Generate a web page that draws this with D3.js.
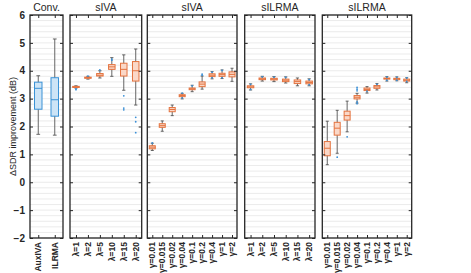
<!DOCTYPE html>
<html>
  <head>
    <meta charset="utf-8">
    <title>SDR boxplots</title>
    <script type="text/javascript" src="https://cdn.jsdelivr.net/npm/d3@7"></script>
    <style>
      body { margin: 0; background: #fff; }
      text { font-family: "Liberation Sans", Arial, sans-serif; fill: #262626; }
    </style>
  </head>
  <body>
<script type="text/javascript">
// box stats: [lower whisker, q1, median, q3, upper whisker]
var convCats = ["AuxIVA", "ILRMA"];
var convStats = [[1.72, 2.62, 3.37, 3.59, 3.82], [1.69, 2.37, 2.96, 3.75, 5.14]];
var convOutliers = [[], []];

var lamCats = ["λ=1", "λ=2", "λ=5", "λ=10", "λ=15", "λ=20"];
var gamCats = ["γ=0.01", "γ=0.015", "γ=0.02", "γ=0.04", "γ=0.1", "γ=0.2", "γ=0.4", "γ=1", "γ=2"];

var sivaLamStats = [[3.38, 3.40, 3.42, 3.44, 3.46], [3.70, 3.73, 3.75, 3.77, 3.80], [3.74, 3.81, 3.84, 3.90, 4.00],
                    [3.80, 4.05, 4.14, 4.22, 4.47], [3.30, 3.81, 4.05, 4.27, 4.57], [2.77, 3.63, 4.00, 4.33, 4.78]];
var sivaLamOutliers = [[3.35, 3.32], [3.81], [4.03], [4.42, 4.38], [3.10, 2.66, 2.60], [2.33, 2.17, 1.78]];

var sivaGamStats = [[1.14, 1.20, 1.26, 1.31, 1.40], [1.83, 1.97, 2.03, 2.10, 2.20], [2.39, 2.53, 2.61, 2.68, 2.77],
                    [2.99, 3.07, 3.11, 3.14, 3.19], [3.25, 3.32, 3.35, 3.38, 3.48], [3.34, 3.43, 3.52, 3.60, 3.81],
                    [3.71, 3.79, 3.84, 3.89, 3.97], [3.72, 3.80, 3.86, 3.91, 4.03], [3.62, 3.78, 3.87, 3.96, 4.09]];
var sivaGamOutliers = [[1.41], [], [], [3.20, 3.03], [3.46], [3.88, 3.84], [3.95, 3.75], [4.01, 3.75], []];

var silrmaLamStats = [[3.31, 3.39, 3.42, 3.46, 3.53], [3.63, 3.68, 3.71, 3.74, 3.80], [3.61, 3.67, 3.70, 3.73, 3.79],
                      [3.56, 3.61, 3.66, 3.70, 3.78], [3.46, 3.54, 3.61, 3.67, 3.74], [3.46, 3.53, 3.58, 3.63, 3.71]];
var silrmaLamOutliers = [[3.51, 3.33], [3.78], [3.77], [3.76], [], [3.68, 3.50]];

var silrmaGamStats = [[0.63, 0.95, 1.22, 1.46, 2.19], [1.04, 1.69, 1.94, 2.15, 2.58], [1.81, 2.23, 2.39, 2.55, 2.91],
                      [2.84, 2.99, 3.05, 3.11, 3.19], [3.20, 3.29, 3.33, 3.38, 3.43], [3.31, 3.37, 3.42, 3.47, 3.54],
                      [3.63, 3.70, 3.72, 3.74, 3.79], [3.64, 3.68, 3.71, 3.73, 3.78], [3.57, 3.63, 3.66, 3.70, 3.75]];
var silrmaGamOutliers = [[], [0.90], [1.63], [3.40, 3.34, 3.28, 2.88, 2.82], [3.27], [3.51], [3.77, 3.66], [3.76, 3.66], [3.74, 3.62]];

var yTicks = [-2, -1, 0, 1, 2, 3, 4, 5, 6];

var w = 471, h = 273;
var plotTop = 15, plotBottom = 238;

var blue = {stroke: "#3a92d6", fill: "#cde4f6"};
var orange = {stroke: "#e4733f", fill: "#fad8c8"};

var panels = [
  {title: "Conv.", cats: convCats, stats: convStats, out: convOutliers, x0: 30, x1: 63, col: blue, bw: 7.5, labels: true},
  {title: "sIVA", cats: lamCats, stats: sivaLamStats, out: sivaLamOutliers, x0: 70, x1: 141.7, col: orange, bw: 6.5},
  {title: "sIVA", cats: gamCats, stats: sivaGamStats, out: sivaGamOutliers, x0: 147.3, x1: 237, col: orange, bw: 6},
  {title: "sILRMA", cats: lamCats, stats: silrmaLamStats, out: silrmaLamOutliers, x0: 244.7, x1: 315, col: orange, bw: 6.5},
  {title: "sILRMA", cats: gamCats, stats: silrmaGamStats, out: silrmaGamOutliers, x0: 322.3, x1: 411.7, col: orange, bw: 6}
];

var svg = d3.select("body").append("svg")
            .attr("width", w)
            .attr("height", h);

var Yscale = d3.scaleLinear().domain([-2, 6]).range([plotBottom, plotTop]);
var minor = d3.range(-2, 6.001, 0.2);

svg.append("text")
   .attr("transform", "translate(13," + ((plotTop + plotBottom) / 2) + ") rotate(-90)")
   .attr("text-anchor", "middle")
   .attr("dy", "0.35em")
   .style("font-size", "9px")
   .text("ΔSDR improvement (dB)");

panels.forEach(function(p) {
  var g = svg.append("g");
  var Xscale = d3.scalePoint().domain(p.cats).range([p.x0, p.x1]).padding(0.5);

  // grid
  g.selectAll("line.grid")
   .data(minor)
   .enter()
   .append("line")
   .attr("x1", p.x0).attr("x2", p.x1)
   .attr("y1", function(d) { return Yscale(d); })
   .attr("y2", function(d) { return Yscale(d); })
   .attr("stroke", "#e6e6e6")
   .attr("stroke-width", 0.8);

  // boxes
  var bx = g.selectAll("g.box")
            .data(p.stats)
            .enter()
            .append("g")
            .attr("transform", function(d, i) { return "translate(" + Xscale(p.cats[i]) + ",0)"; });
  var cw = p.bw * 0.5;
  bx.append("line")
    .attr("x1", 0).attr("x2", 0)
    .attr("y1", function(d) { return Yscale(d[4]); })
    .attr("y2", function(d) { return Yscale(d[0]); })
    .attr("stroke", "#555").attr("stroke-width", 0.9);
  bx.append("line")
    .attr("x1", -cw / 2).attr("x2", cw / 2)
    .attr("y1", function(d) { return Yscale(d[4]); })
    .attr("y2", function(d) { return Yscale(d[4]); })
    .attr("stroke", "#555").attr("stroke-width", 0.9);
  bx.append("line")
    .attr("x1", -cw / 2).attr("x2", cw / 2)
    .attr("y1", function(d) { return Yscale(d[0]); })
    .attr("y2", function(d) { return Yscale(d[0]); })
    .attr("stroke", "#555").attr("stroke-width", 0.9);
  bx.append("rect")
    .attr("x", -p.bw / 2)
    .attr("width", p.bw)
    .attr("y", function(d) { return Yscale(d[3]); })
    .attr("height", function(d) { return Math.max(1, Yscale(d[1]) - Yscale(d[3])); })
    .attr("fill", p.col.fill)
    .attr("stroke", p.col.stroke)
    .attr("stroke-width", 1);
  bx.append("line")
    .attr("x1", -p.bw / 2).attr("x2", p.bw / 2)
    .attr("y1", function(d) { return Yscale(d[2]); })
    .attr("y2", function(d) { return Yscale(d[2]); })
    .attr("stroke", p.col.stroke).attr("stroke-width", 1);

  // outliers
  p.out.forEach(function(arr, i) {
    g.selectAll(null)
     .data(arr)
     .enter()
     .append("circle")
     .attr("cx", Xscale(p.cats[i]))
     .attr("cy", function(d) { return Yscale(d); })
     .attr("r", 0.9)
     .attr("fill", "#3a8fd6");
  });

  // ticks on all four sides
  var tl = g.append("g").attr("transform", "translate(" + p.x0 + ",0)")
            .call(d3.axisRight(Yscale).tickValues(yTicks).tickSize(3).tickFormat(""));
  var tr = g.append("g").attr("transform", "translate(" + p.x1 + ",0)")
            .call(d3.axisLeft(Yscale).tickValues(yTicks).tickSize(3).tickFormat(""));
  var tt = g.append("g").attr("transform", "translate(0," + plotTop + ")")
            .call(d3.axisBottom(Xscale).tickSize(3).tickFormat(""));
  var tb = g.append("g").attr("transform", "translate(0," + plotBottom + ")")
            .call(d3.axisTop(Xscale).tickSize(3).tickFormat(""));
  [tl, tr, tt, tb].forEach(function(a) {
    a.select(".domain").remove();
    a.selectAll("line").attr("stroke", "#262626").attr("stroke-width", 1);
  });

  if (p.labels) {
    var yl = g.append("g").attr("transform", "translate(" + p.x0 + ",0)")
              .call(d3.axisLeft(Yscale).tickValues(yTicks).tickSize(0).tickPadding(5));
    yl.select(".domain").remove();
    yl.selectAll("text").style("font-size", "10px").style("font-weight", "bold")
      .style("font-family", "'Liberation Sans', Arial, sans-serif").attr("fill", "#262626");
  }

  // border
  g.append("rect")
   .attr("x", p.x0).attr("y", plotTop)
   .attr("width", p.x1 - p.x0).attr("height", plotBottom - plotTop)
   .attr("fill", "none")
   .attr("stroke", "#262626")
   .attr("stroke-width", 1.3);

  // title
  g.append("text")
   .attr("x", (p.x0 + p.x1) / 2)
   .attr("y", 11)
   .attr("text-anchor", "middle")
   .style("font-size", "10.5px")
   .text(p.title);

  // rotated category labels
  g.selectAll("text.cat")
   .data(p.cats)
   .enter()
   .append("text")
   .attr("transform", function(d) { return "translate(" + Xscale(d) + "," + (plotBottom + 4) + ") rotate(-90)"; })
   .attr("text-anchor", "end")
   .attr("dy", "0.35em")
   .style("font-size", "8.5px")
   .style("font-weight", "bold")
   .text(function(d) { return d; });
});
</script>
  </body>
</html>
